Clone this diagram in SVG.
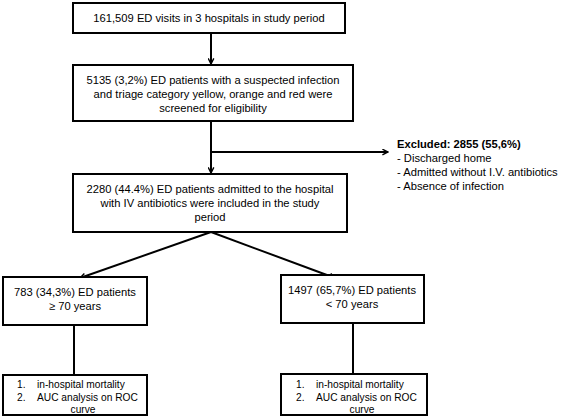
<svg xmlns="http://www.w3.org/2000/svg" width="568" height="417" viewBox="0 0 568 417">
<defs>
<marker id="ah" viewBox="0 0 10 10" refX="9" refY="5" markerWidth="7" markerHeight="7" markerUnits="userSpaceOnUse" orient="auto">
<path d="M1,1 L9,5 L1,9" fill="none" stroke="#000" stroke-width="2"/>
</marker>
<style>
.box{fill:#fff;stroke:#000;stroke-width:2}
text{font-family:"Liberation Sans",Arial,sans-serif;font-size:11.2px;fill:#000}
.c{text-anchor:middle}
.s{font-size:10.2px}
.ln{stroke:#000;stroke-width:2;fill:none}
</style>
</defs>
<rect width="568" height="417" fill="#fff"/>
<g id="connectors">
<line class="ln" x1="211" y1="33" x2="211" y2="64" marker-end="url(#ah)"/>
<line class="ln" x1="211" y1="121" x2="211" y2="173" marker-end="url(#ah)"/>
<line class="ln" x1="211" y1="152" x2="388" y2="152" marker-end="url(#ah)"/>
<line class="ln" x1="211" y1="232" x2="80" y2="278" marker-end="url(#ah)"/>
<line class="ln" x1="211" y1="232" x2="335" y2="278" marker-end="url(#ah)"/>
<line class="ln" x1="74" y1="325" x2="74" y2="375"/>
<line class="ln" x1="353" y1="323" x2="353" y2="374"/>
</g>
<g id="n1">
<rect class="box" x="73" y="3" width="272" height="30"/>
<text class="c" x="209" y="22">161,509 ED visits in 3 hospitals in study period</text>
</g>
<g id="n2">
<rect class="box" x="73" y="65" width="280" height="56"/>
<text class="c" x="213" y="84">5135 (3,2%) ED patients with a suspected infection</text>
<text class="c" x="213" y="98">and triage category yellow, orange and red were</text>
<text class="c" x="213" y="112">screened for eligibility</text>
</g>
<g id="excluded">
<text x="397" y="148" font-weight="bold">Excluded: 2855 (55,6%)</text>
<text x="397" y="162">- Discharged home</text>
<text x="397" y="176">- Admitted without I.V. antibiotics</text>
<text x="397" y="190">- Absence of infection</text>
</g>
<g id="n3">
<rect class="box" x="73" y="174" width="274" height="58"/>
<text class="c" x="210" y="193">2280 (44.4%) ED patients admitted to the hospital</text>
<text class="c" x="210" y="207">with IV antibiotics were included in the study</text>
<text class="c" x="210" y="221">period</text>
</g>
<g id="n4">
<rect class="box" x="3" y="277" width="144" height="48"/>
<text class="c" x="75" y="296">783 (34,3%) ED patients</text>
<text class="c" x="75" y="310">≥ 70 years</text>
</g>
<g id="n5">
<rect class="box" x="281" y="275" width="143" height="48"/>
<text class="c" x="352" y="294">1497 (65,7%) ED patients</text>
<text class="c" x="352" y="308">&lt; 70 years</text>
</g>
<g id="n6">
<rect class="box" x="3" y="375" width="144" height="40"/>
<text class="s" x="17" y="388">1.</text><text class="s" x="37" y="388">in-hospital mortality</text>
<text class="s" x="17" y="401">2.</text><text class="s" x="37" y="401">AUC analysis on ROC</text>
<text class="s c" x="83" y="413">curve</text>
</g>
<g id="n7">
<rect class="box" x="281" y="374" width="146" height="41"/>
<text class="s" x="296" y="388">1.</text><text class="s" x="316" y="388">in-hospital mortality</text>
<text class="s" x="296" y="401">2.</text><text class="s" x="316" y="401">AUC analysis on ROC</text>
<text class="s c" x="362" y="413">curve</text>
</g>
</svg>
